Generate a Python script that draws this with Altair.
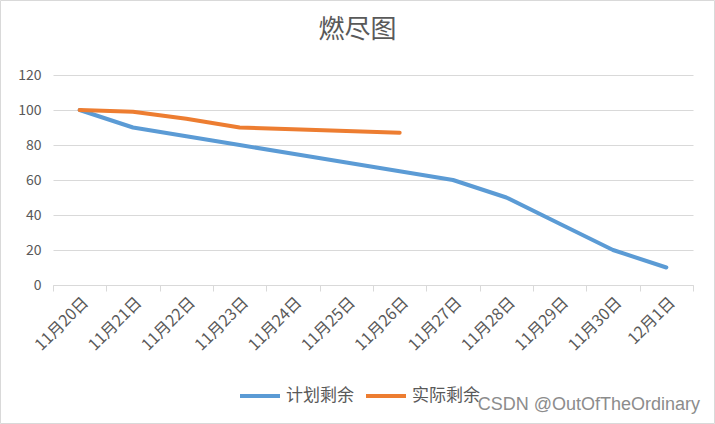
import altair as alt
import pandas as pd

dates = ["11月20日", "11月21日", "11月22日", "11月23日", "11月24日", "11月25日",
         "11月26日", "11月27日", "11月28日", "11月29日", "11月30日", "12月1日"]
planned = [100, 90, 85, 80, 75, 70, 65, 60, 50, 35, 20, 10]
actual = [100, 99, 95, 90, 89, 88, 87]
series_names = ["计划剩余", "实际剩余"]
colors = ["#5B9BD5", "#ED7D31"]

rows = []
for d, v in zip(dates, planned):
    rows.append({"日期": d, "系列": series_names[0], "剩余": v, "o": 0})
for d, v in zip(dates, actual):
    rows.append({"日期": d, "系列": series_names[1], "剩余": v, "o": 1})
df = pd.DataFrame(rows)

FONT = "Noto Sans CJK SC"
GREY = "#595959"
W, H = 640, 210
PL, PT, PR, PB = 53, 75, 22, 139

lines = alt.Chart(df).mark_line(strokeWidth=4, strokeCap="round", strokeJoin="round").encode(
    x=alt.X("日期:N", sort=dates, bandPosition=0.5,
            scale=alt.Scale(type="band", paddingInner=0, paddingOuter=0),
            axis=alt.Axis(title=None, labelAngle=-45, labelFontSize=16, labelColor=GREY,
                          labelFont=FONT, domainColor="#d9d9d9", tickColor="#d9d9d9",
                          tickSize=6, tickBand="extent", grid=False, labelPadding=3)),
    y=alt.Y("剩余:Q", scale=alt.Scale(domain=[0, 120]),
            axis=alt.Axis(title=None, values=[0, 20, 40, 60, 80, 100, 120], labelFontSize=14,
                          labelColor=GREY, labelFont=FONT, domain=False, ticks=False,
                          gridColor="#d9d9d9", labelPadding=12)),
    color=alt.Color("系列:N", scale=alt.Scale(domain=series_names, range=colors),
                    legend=alt.Legend(title=None, orient="none", legendX=185, legendY=299,
                                      direction="horizontal", symbolType="stroke",
                                      symbolStrokeWidth=4, symbolSize=1600,
                                      labelFontSize=17, labelColor=GREY, labelFont=FONT,
                                      labelOffset=4, columnPadding=4)),
    order="o:Q",
    detail="系列:N",
)

one = pd.DataFrame({"a": [0]})
title = alt.Chart(one).mark_text(text="燃尽图", fontSize=26, font=FONT, color=GREY,
                                 baseline="middle", align="center").encode(
    x=alt.value(357.5 - PL), y=alt.value(30 - PT))
mark = alt.Chart(one).mark_text(text="CSDN @OutOfTheOrdinary", fontSize=18, font="Liberation Sans",
                                color="#8c8c8c", baseline="middle", align="right").encode(
    x=alt.value(700 - PL), y=alt.value(405 - PT))
border = alt.Chart(one).mark_rect(fill=None, stroke="#d9d9d9", strokeWidth=1).encode(
    x=alt.value(-PL + 0.5), x2=alt.value(W + PR - 0.5),
    y=alt.value(-PT + 0.5), y2=alt.value(H + PB - 0.5))

chart = alt.layer(border, lines, title, mark).properties(
    width=W, height=H,
    padding={"left": PL, "top": PT, "right": PR, "bottom": PB},
    autosize=alt.AutoSizeParams(type="none"),
    background="white",
).configure_view(stroke=None)

chart.save("out.html", embed_options={"renderer": "svg", "actions": False})
